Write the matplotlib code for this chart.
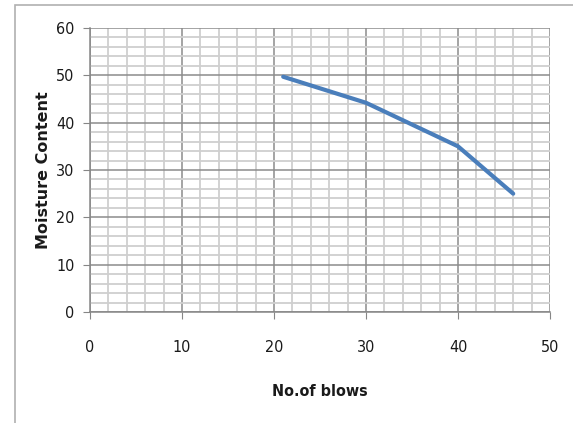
import matplotlib
matplotlib.use("Agg")
import matplotlib.pyplot as plt
from matplotlib.patches import Rectangle
from matplotlib.ticker import MultipleLocator

# liquid limit test readings
blows = [21, 30, 40, 46]
moisture = [49.7, 44.2, 35.0, 25.0]

x_ticks = [0, 10, 20, 30, 40, 50]
y_ticks = [0, 10, 20, 30, 40, 50, 60]

W, H = 573, 423
fig = plt.figure(figsize=(W / 100, H / 100), dpi=100)

# chart area border like the spreadsheet frame
fig.patches.append(Rectangle((15 / W, -0.1), 1.2, 1 - 5 / H + 0.1, transform=fig.transFigure,
                             fill=False, edgecolor="#b0b0b0", linewidth=1.2))

ax = fig.add_axes([90 / W, 1 - 312 / H, 460 / W, 284 / H])
ax.set_xlim(0, 50)
ax.set_ylim(0, 60)
ax.set_xticks(x_ticks)
ax.set_yticks(y_ticks)
ax.xaxis.set_minor_locator(MultipleLocator(2))
ax.yaxis.set_minor_locator(MultipleLocator(2))

ax.grid(which="minor", color="#cfcfcf", linewidth=1.3)
ax.grid(which="major", color="#8c8c8c", linewidth=1.1)
ax.set_axisbelow(True)

for s in ["top", "right"]:
    ax.spines[s].set_visible(False)
for s in ["left", "bottom"]:
    ax.spines[s].set_color("#868686")
    ax.spines[s].set_linewidth(1.1)

ax.tick_params(which="minor", length=0)
ax.tick_params(which="major", length=5, color="#868686", labelsize=11.5, labelcolor="#1a1a1a")
ax.tick_params(axis="x", pad=15)
ax.tick_params(axis="y", pad=6)
for lab in ax.get_xticklabels() + ax.get_yticklabels():
    lab.set_family("DejaVu Sans")
    lab.set_stretch("condensed")

ax.plot(blows, moisture, color="#4a7ebb", linewidth=3, solid_capstyle="round")

ax.set_xlabel("No.of blows", family="DejaVu Sans", stretch="condensed",
              fontweight="bold", fontsize=11.5, labelpad=21, color="#1a1a1a")
ax.set_ylabel("Moisture Content", family="DejaVu Sans", fontweight="bold", fontsize=11.5,
              labelpad=4, color="#1a1a1a")

fig.savefig("out.png", dpi=100)
